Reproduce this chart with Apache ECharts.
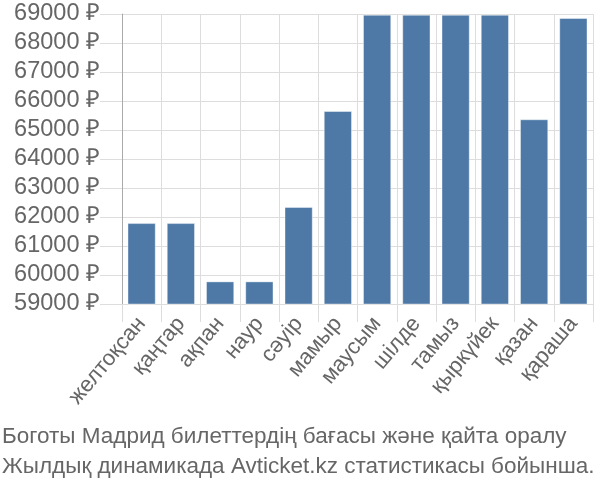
<!DOCTYPE html>
<html>
<head>
<meta charset="utf-8">
<script src="https://cdn.jsdelivr.net/npm/echarts@6/dist/echarts.min.js"></script>
<style>html,body{margin:0;padding:0;background:#fff}#c{width:600px;height:500px}</style>
</head>
<body>
<div id="c"></div>
<script>
const categories = ['желтоқсан','қаңтар','ақпан','наур','сәуір','мамыр','маусым','шілде','тамыз','қыркүйек','қазан','қараша'];
const prices = [61790, 61790, 59780, 59780, 62345, 65655, 68975, 68975, 68975, 68975, 65370, 68862];
const yTicks = { min: 59000, max: 69000, step: 1000 };
const titleLines = ['Боготы Мадрид билеттердің бағасы және қайта оралу', 'Жылдық динамикада Avticket.kz статистикасы бойынша.'];

const chart = echarts.init(document.getElementById('c'), null, {renderer: 'canvas'});
const font = 'Liberation Sans, Arial, sans-serif';
chart.setOption({
  animation: false,
  title: {
    text: titleLines.join('\n'),
    left: 2, top: 422, padding: 0,
    textStyle: { fontFamily: font, fontSize: 22.5, fontWeight: 'normal', color: '#666', lineHeight: 30 }
  },
  grid: { left: 122, right: 7, top: 14, bottom: 196 },
  xAxis: {
    type: 'category', data: categories,
    axisLine: { show: true, lineStyle: { color: '#ddd' } },
    axisTick: { show: true, length: 18, lineStyle: { color: '#ddd' } },
    splitLine: { show: true, lineStyle: { color: '#ddd' } },
    axisLabel: { rotate: 50, fontFamily: font, fontSize: 22, color: '#666', margin: 16, interval: 0 }
  },
  yAxis: {
    type: 'value', min: yTicks.min, max: yTicks.max, interval: yTicks.step,
    axisLine: { show: true, lineStyle: { color: '#aaa' } },
    axisTick: { show: true, length: 22, lineStyle: { color: '#ddd' } },
    splitLine: { show: true, lineStyle: { color: '#ddd' } },
    axisLabel: { fontFamily: font, fontSize: 23.5, color: '#666', margin: 22, formatter: v => v + ' ₽' }
  },
  series: [{
    type: 'bar', data: prices, barWidth: '72%',
    itemStyle: { color: '#4e79a7', borderColor: 'rgba(255,255,255,0.4)', borderWidth: 1 }
  }]
});
</script>
</body>
</html>
